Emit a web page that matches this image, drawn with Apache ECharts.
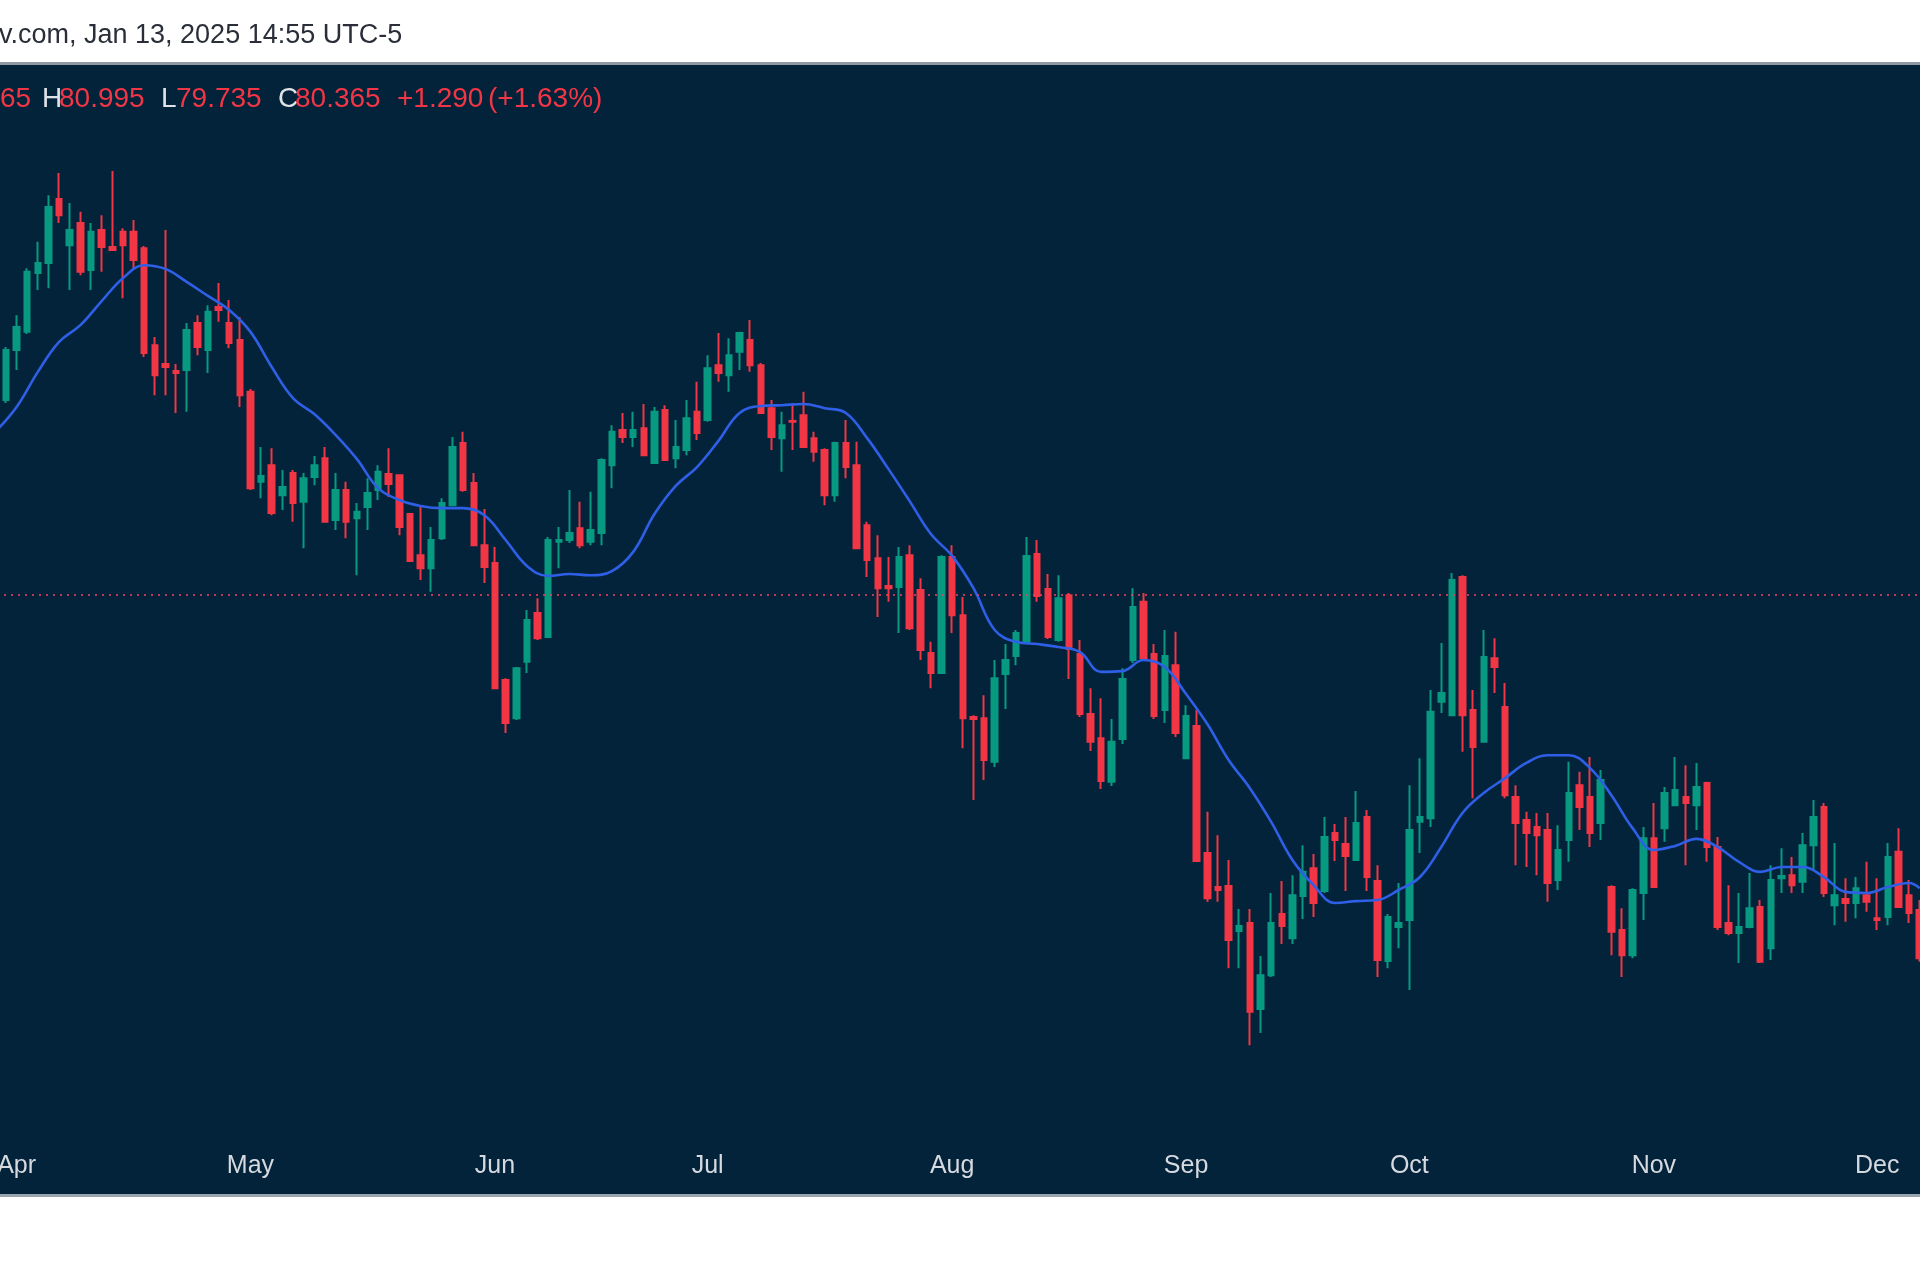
<!DOCTYPE html>
<html>
<head>
<meta charset="utf-8">
<title>Daily candles with moving average</title>
<script src="https://cdn.jsdelivr.net/npm/echarts@6/dist/echarts.min.js"></script>
<style>
  html, body { margin: 0; padding: 0; background: #ffffff; }
  #wrap { position: relative; width: 1920px; height: 1280px; background: #ffffff; overflow: hidden; }
  #panel {
    position: absolute; left: 0; top: 62px; width: 1920px; height: 1135px;
    background: #03233a; box-sizing: border-box;
    border-top: 3px solid #8d98a4; border-bottom: 3px solid #9aa4b0;
  }
  #main { position: absolute; left: 0; top: 0; width: 1920px; height: 1280px; }
</style>
</head>
<body>
<div id="wrap">
  <div id="panel"></div>
  <div id="main"></div>
</div>
<script>
// sessions: weekdays starting from this date
const startDate = '2024-03-28';
const barCount = 182;

const opens = [
  85.22, 85.63, 86.98, 87.47, 89.06, 89.33, 91.06, 89.81, 90.41, 89.14,
  90.22, 89.76, 90.17, 90.17, 89.73, 87.11, 86.60, 86.41, 86.44, 87.71,
  86.98, 88.14, 87.71, 87.25, 85.85, 83.42, 83.87, 83.06, 83.66, 82.88,
  83.55, 84.06, 82.39, 83.20, 82.44, 82.74, 83.20, 83.63, 83.60, 82.55,
  81.44, 81.09, 81.90, 82.79, 84.47, 83.39, 81.71, 81.23, 78.07, 77.04,
  78.56, 79.88, 79.23, 81.80, 81.85, 82.17, 81.80, 82.04, 83.87, 84.82,
  84.63, 84.87, 83.93, 85.36, 84.06, 84.28, 85.31, 85.09, 86.57, 86.30,
  86.93, 87.25, 86.57, 85.41, 84.60, 85.06, 85.22, 84.60, 84.28, 83.06,
  84.47, 83.87, 82.25, 81.36, 80.61, 80.58, 81.44, 80.50, 78.80, 78.26,
  81.39, 79.82, 77.07, 77.04, 75.86, 78.23, 78.72, 79.10, 81.47, 80.53,
  79.15, 80.36, 78.77, 77.15, 76.50, 75.32, 76.48, 78.61, 80.18, 78.77,
  77.26, 78.47, 75.96, 76.83, 73.40, 72.48, 72.51, 71.29, 71.51, 69.19,
  70.10, 71.75, 71.10, 72.24, 72.99, 72.37, 73.94, 73.64, 73.21, 74.37,
  72.64, 70.48, 71.40, 71.59, 74.24, 74.34, 77.48, 77.12, 80.85, 77.26,
  76.40, 78.66, 77.34, 74.91, 74.29, 74.10, 74.02, 72.67, 73.75, 75.23,
  74.91, 74.21, 72.48, 71.32, 70.64, 72.32, 73.80, 74.07, 74.69, 74.91,
  74.69, 75.29, 73.56, 71.51, 71.24, 71.40, 71.94, 70.83, 72.72, 72.80,
  72.62, 73.61, 74.64, 71.99, 72.16, 72.05, 72.26, 71.64, 71.67, 73.43,
  72.26, 71.86
];

const closes = [
  85.76, 86.98, 87.60, 89.09, 89.33, 90.84, 90.62, 90.22, 89.09, 90.17,
  89.76, 89.68, 89.81, 89.41, 86.90, 86.30, 86.52, 86.36, 87.52, 87.06,
  88.01, 88.06, 87.17, 85.76, 83.25, 83.58, 82.58, 83.28, 82.85, 83.52,
  83.87, 82.34, 83.20, 82.34, 82.61, 83.12, 83.69, 83.36, 82.20, 81.28,
  81.09, 81.85, 82.85, 84.36, 83.20, 81.71, 81.12, 77.85, 76.91, 78.39,
  79.69, 79.20, 81.85, 81.85, 82.04, 81.71, 82.12, 84.01, 84.77, 84.63,
  84.82, 84.14, 85.31, 84.01, 84.36, 85.14, 84.74, 86.49, 86.36, 86.84,
  87.44, 86.57, 85.28, 84.63, 84.95, 85.04, 84.36, 84.23, 83.06, 84.47,
  83.82, 81.63, 81.31, 80.55, 80.55, 81.39, 79.47, 78.88, 78.26, 81.39,
  79.82, 77.04, 77.02, 75.91, 78.12, 78.61, 79.34, 81.42, 80.34, 79.23,
  80.28, 78.91, 77.15, 76.40, 75.34, 76.40, 78.10, 80.04, 78.66, 77.10,
  78.72, 76.64, 77.10, 73.18, 72.18, 72.40, 71.05, 71.43, 69.11, 70.10,
  71.51, 71.43, 72.26, 72.89, 72.05, 73.83, 73.75, 73.32, 74.21, 72.75,
  70.51, 71.67, 71.51, 74.02, 74.37, 77.21, 77.72, 80.77, 77.12, 76.26,
  78.69, 78.42, 74.96, 74.21, 73.94, 73.88, 72.59, 73.48, 75.02, 74.64,
  73.94, 75.37, 71.27, 70.64, 72.40, 73.80, 72.48, 75.02, 75.10, 74.75,
  75.18, 73.56, 71.40, 71.24, 71.40, 71.91, 70.46, 72.67, 72.78, 72.53,
  73.61, 74.37, 72.32, 72.26, 72.05, 72.45, 72.08, 71.59, 73.29, 71.94,
  71.78, 70.56
];

const lows = [
  85.09, 85.55, 86.44, 87.41, 88.60, 88.65, 90.41, 88.60, 89.00, 88.60,
  89.09, 89.65, 88.38, 89.14, 86.79, 85.76, 85.76, 85.28, 85.31, 86.84,
  86.36, 87.74, 87.03, 85.44, 83.20, 82.98, 82.52, 82.66, 82.34, 81.63,
  83.33, 82.34, 82.12, 81.90, 80.90, 82.12, 82.93, 83.01, 81.98, 81.26,
  80.77, 80.45, 81.85, 82.79, 83.15, 81.71, 80.69, 77.85, 76.64, 76.99,
  78.26, 79.15, 79.23, 81.09, 81.77, 81.63, 81.71, 81.71, 83.25, 84.47,
  84.36, 84.14, 83.93, 84.01, 83.79, 84.14, 84.55, 85.04, 86.12, 85.85,
  86.44, 86.39, 85.28, 84.28, 83.69, 84.28, 84.36, 83.96, 82.79, 82.88,
  83.52, 81.63, 80.85, 79.77, 80.18, 79.34, 79.42, 78.61, 77.85, 78.26,
  79.34, 76.23, 74.83, 75.37, 75.72, 77.29, 78.47, 79.10, 80.18, 79.18,
  79.10, 78.10, 77.07, 76.15, 75.13, 75.21, 76.34, 78.53, 78.58, 77.02,
  76.91, 76.53, 75.96, 73.18, 72.08, 72.08, 70.29, 70.29, 68.21, 68.54,
  70.05, 70.94, 70.94, 71.62, 71.67, 72.32, 73.18, 72.37, 73.18, 72.37,
  70.05, 70.29, 70.83, 69.70, 73.40, 74.10, 77.18, 77.12, 76.13, 74.88,
  76.40, 77.72, 74.88, 73.07, 73.02, 72.80, 72.08, 72.40, 73.16, 74.02,
  73.56, 73.75, 70.64, 70.05, 70.56, 71.59, 72.48, 73.70, 74.69, 73.07,
  74.02, 73.16, 71.32, 71.18, 70.43, 71.37, 70.43, 70.51, 72.32, 72.32,
  72.32, 72.94, 72.21, 71.45, 71.54, 71.64, 71.81, 71.32, 71.45, 71.94,
  71.51, 70.46
];

const highs = [
  85.90, 87.06, 87.92, 89.19, 89.90, 91.16, 91.76, 90.95, 90.71, 90.41,
  90.62, 91.81, 90.27, 90.49, 89.79, 87.33, 90.22, 86.60, 87.71, 87.92,
  88.19, 88.79, 88.33, 87.87, 85.93, 84.36, 84.33, 83.74, 83.74, 83.66,
  84.12, 84.36, 83.66, 83.42, 82.85, 83.52, 83.87, 84.33, 83.60, 82.55,
  82.79, 82.20, 82.98, 84.63, 84.77, 83.66, 82.69, 81.66, 78.12, 78.42,
  79.96, 80.28, 81.93, 82.20, 83.20, 82.88, 83.15, 84.06, 84.95, 85.28,
  85.31, 85.52, 85.44, 85.49, 85.09, 85.63, 86.12, 86.84, 87.44, 87.30,
  87.47, 87.79, 86.63, 85.63, 85.31, 85.55, 85.85, 84.77, 84.33, 84.50,
  85.09, 84.50, 82.34, 81.98, 81.39, 81.66, 81.71, 80.82, 79.10, 81.44,
  81.71, 80.31, 77.12, 77.66, 78.61, 79.04, 79.42, 81.93, 81.85, 80.93,
  80.90, 80.42, 79.15, 77.85, 77.58, 77.02, 78.39, 80.55, 80.42, 79.04,
  79.42, 79.37, 77.39, 77.26, 74.51, 73.88, 73.21, 71.89, 71.89, 70.62,
  72.32, 72.64, 72.80, 73.61, 73.37, 74.37, 74.18, 74.37, 75.07, 74.56,
  73.07, 71.75, 72.59, 75.23, 75.96, 77.80, 79.07, 80.96, 80.90, 77.80,
  79.42, 79.20, 77.99, 75.23, 74.51, 74.48, 74.48, 74.15, 75.86, 75.59,
  75.99, 75.64, 72.53, 71.91, 72.45, 74.10, 74.75, 75.18, 75.99, 75.77,
  75.83, 75.32, 73.83, 72.53, 72.32, 72.86, 72.13, 73.07, 73.53, 73.29,
  73.94, 74.83, 74.75, 73.67, 72.72, 72.75, 73.16, 72.72, 73.67, 74.07,
  72.67, 72.13
];

const maValues = [
  84.77, 85.44, 86.39, 87.20, 87.65, 88.30, 88.92, 89.27, 89.17, 88.82,
  88.44, 88.06, 87.47, 86.52, 85.68, 85.25, 84.69, 84.04, 83.25, 82.93,
  82.77, 82.71, 82.71, 82.52, 81.85, 81.15, 80.88, 80.93, 80.90, 81.01,
  81.53, 82.55, 83.31, 83.82, 84.52, 85.28, 85.47, 85.49, 85.52, 85.41,
  85.28, 84.60, 83.77, 82.90, 82.01, 81.42, 80.55, 79.42, 79.10, 79.04,
  78.96, 78.83, 78.29, 78.31, 78.61, 78.42, 77.69, 76.88, 75.91, 75.15,
  74.24, 73.21, 72.53, 72.05, 72.10, 72.13, 72.40, 72.75, 73.56, 74.48,
  75.02, 75.42, 75.83, 76.04, 76.04, 75.69, 74.96, 74.07, 73.48, 73.59,
  73.78, 73.56, 73.16, 72.89, 73.02, 73.02, 72.75, 72.35, 72.32, 72.48,
  72.59, 72.45
];

const lastPrice = 80.365;
const monthNames = ['Jan', 'Feb', 'Mar', 'Apr', 'May', 'Jun', 'Jul', 'Aug', 'Sep', 'Oct', 'Nov', 'Dec'];

// build the weekday dates
const dates = [];
let day = new Date(startDate + 'T00:00:00Z');
while (dates.length < barCount) {
  const wd = day.getUTCDay();
  if (wd !== 0 && wd !== 6) dates.push(day.toISOString().slice(0, 10));
  day.setUTCDate(day.getUTCDate() + 1);
}

const candles = dates.map(function (d, i) {
  return [opens[i], closes[i], lows[i], highs[i]];
});
const maLine = maValues.map(function (v, k) {
  return [dates[Math.min(k * 2, barCount - 1)], v];
});

function firstOfMonth(index) {
  return index > 0 && dates[index].slice(5, 7) !== dates[index - 1].slice(5, 7);
}

const UP = '#089981';
const DOWN = '#f23645';
const sans = '"Liberation Sans", Arial, sans-serif';

const chart = echarts.init(document.getElementById('main'));
chart.setOption({
  animation: false,
  backgroundColor: 'transparent',
  grid: {
    left: -10,
    right: -5,
    top: 64,
    bottom: 140,
    containLabel: false,
    outerBoundsMode: 'none'
  },
  xAxis: {
    type: 'category',
    data: dates,
    boundaryGap: true,
    axisLine: { show: false },
    axisTick: { show: false },
    splitLine: { show: false },
    axisLabel: {
      interval: function (index) { return firstOfMonth(index); },
      formatter: function (value) { return monthNames[+value.slice(5, 7) - 1]; },
      color: '#d6dae0',
      fontSize: 25,
      fontFamily: 'Liberation Sans, Arial, sans-serif',
      margin: 14,
      showMinLabel: true,
      showMaxLabel: true,
      hideOverlap: false
    }
  },
  yAxis: {
    type: 'value',
    show: false,
    scale: true,
    min: 65.65,
    max: 94.702,
    splitLine: { show: false }
  },
  series: [
    {
      name: 'Price',
      type: 'candlestick',
      data: candles,
      barWidth: 6,
      itemStyle: {
        color: UP,
        color0: DOWN,
        borderColor: UP,
        borderColor0: DOWN,
        borderWidth: 2
      },
      markLine: {
        silent: true,
        symbol: 'none',
        label: { show: false },
        lineStyle: { color: '#e8405a', type: [2, 5], width: 2, opacity: 0.8 },
        data: [{ yAxis: lastPrice }]
      }
    },
    {
      name: 'MA',
      type: 'line',
      data: maLine,
      smooth: 0.4,
      showSymbol: false,
      symbol: 'none',
      lineStyle: { color: '#2e5fe6', width: 2.6 },
      z: 3
    }
  ],
  graphic: [
    {
      type: 'text', left: -1, top: 22,
      style: { text: 'v.com, Jan 13, 2025 14:55 UTC-5', fill: '#2a2e39', font: '27px ' + sans }
    },
    { type: 'text', left: 0, top: 85, style: { text: '65', fill: DOWN, font: '28px ' + sans } },
    { type: 'text', left: 42, top: 85, style: { text: 'H', fill: '#dfe3e8', font: '28px ' + sans } },
    { type: 'text', left: 59, top: 85, style: { text: '80.995', fill: DOWN, font: '28px ' + sans } },
    { type: 'text', left: 161, top: 85, style: { text: 'L', fill: '#dfe3e8', font: '28px ' + sans } },
    { type: 'text', left: 176, top: 85, style: { text: '79.735', fill: DOWN, font: '28px ' + sans } },
    { type: 'text', left: 278, top: 85, style: { text: 'C', fill: '#dfe3e8', font: '28px ' + sans } },
    { type: 'text', left: 295, top: 85, style: { text: '80.365', fill: DOWN, font: '28px ' + sans } },
    { type: 'text', left: 397, top: 85, style: { text: '+1.290', fill: DOWN, font: '28px ' + sans } },
    { type: 'text', left: 488, top: 85, style: { text: '(+1.63%)', fill: DOWN, font: '28px ' + sans } }
  ]
});
</script>
</body>
</html>
